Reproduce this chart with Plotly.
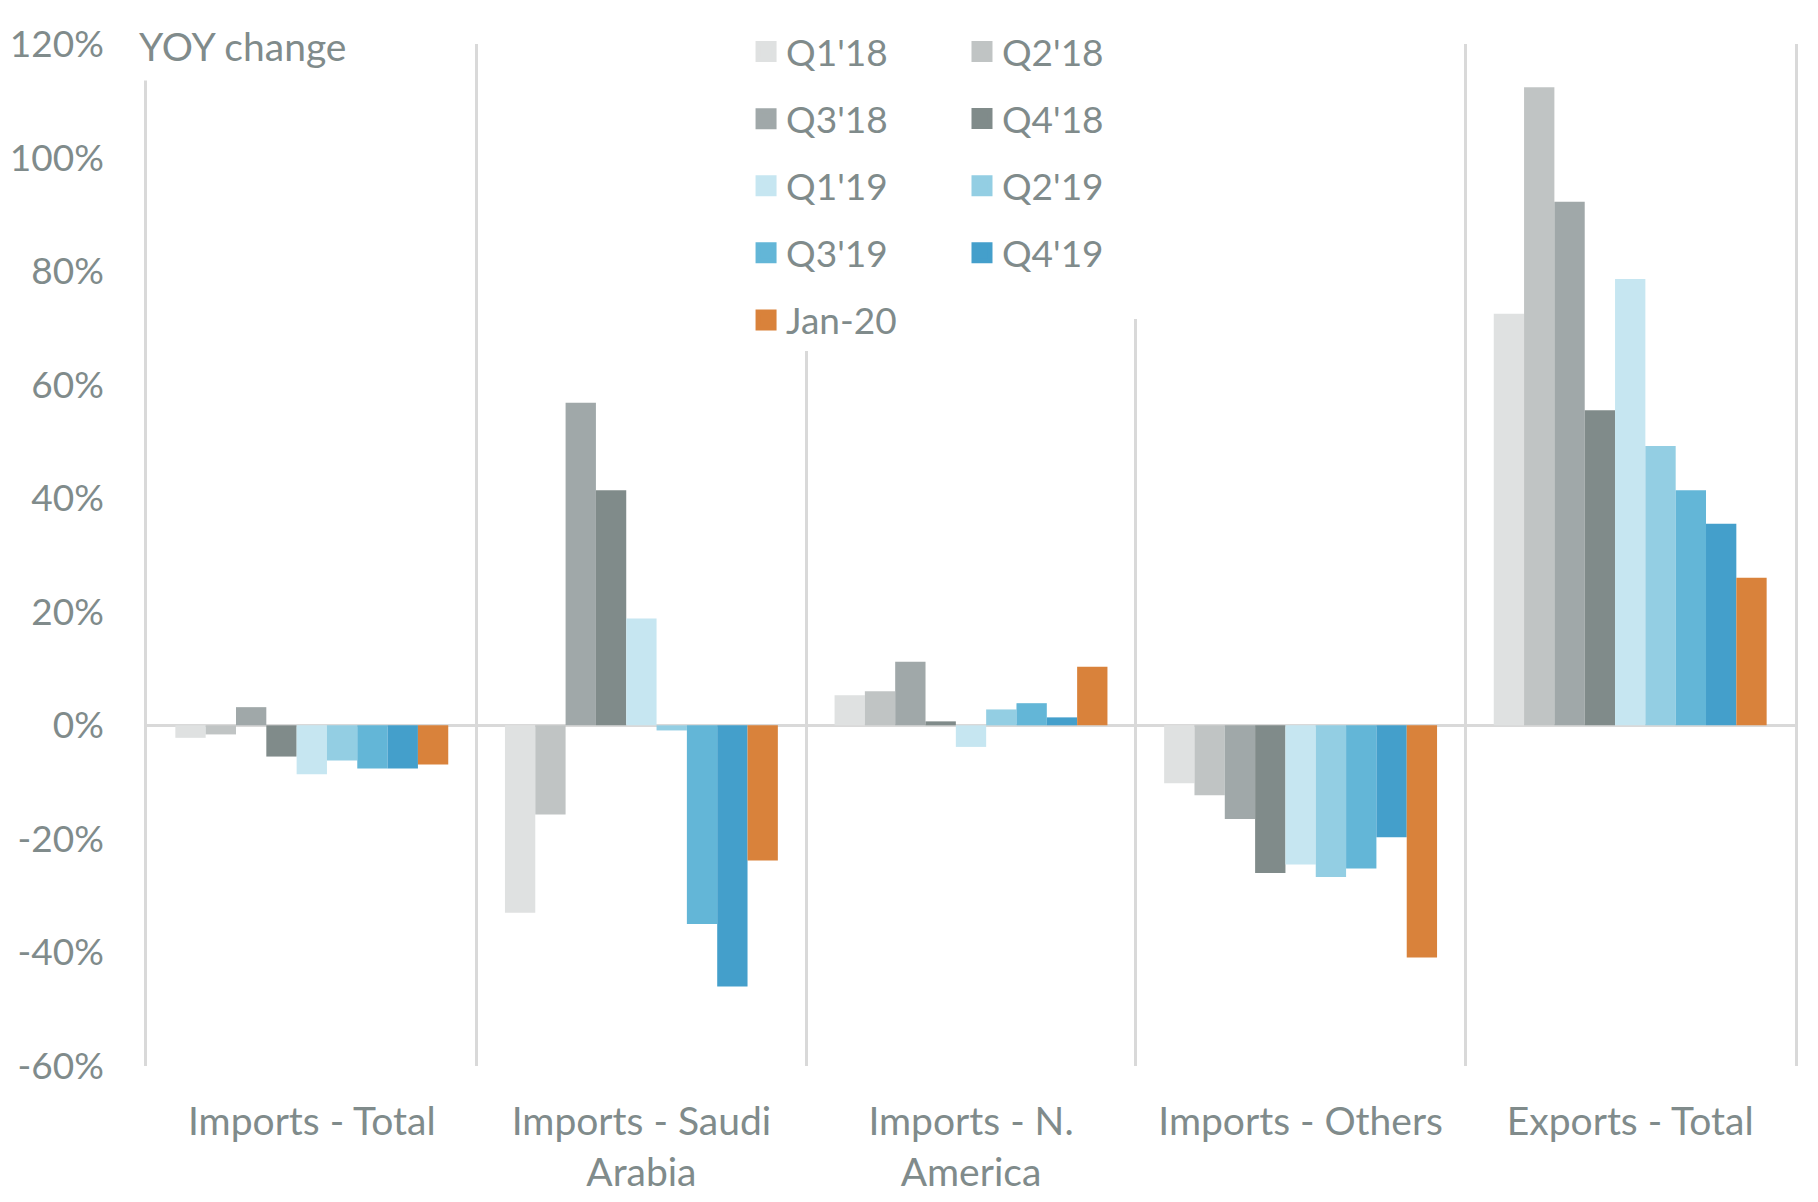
import plotly.graph_objects as go

categories = ["Imports - Total", "Imports - Saudi<br>Arabia", "Imports - N.<br>America",
              "Imports - Others", "Exports - Total"]
series_names = ["Q1'18", "Q2'18", "Q3'18", "Q4'18", "Q1'19", "Q2'19", "Q3'19", "Q4'19", "Jan-20"]
q1_18 = [-2.2, -33.0, 5.3, -10.2, 72.5]
q2_18 = [-1.6, -15.7, 6.0, -12.3, 112.4]
q3_18 = [3.2, 56.8, 11.2, -16.5, 92.2]
q4_18 = [-5.5, 41.4, 0.7, -26.0, 55.5]
q1_19 = [-8.6, 18.8, -3.8, -24.5, 78.6]
q2_19 = [-6.2, -0.9, 2.8, -26.7, 49.2]
q3_19 = [-7.6, -35.0, 3.9, -25.2, 41.4]
q4_19 = [-7.6, -46.0, 1.4, -19.7, 35.5]
jan_20 = [-6.9, -23.8, 10.3, -40.9, 26.0]
series_values = [q1_18, q2_18, q3_18, q4_18, q1_19, q2_19, q3_19, q4_19, jan_20]
colors = ["#dfe1e1", "#c0c4c4", "#a0a8a9", "#808b8a", "#c6e6f1",
          "#93cee3", "#63b6d7", "#449fcb", "#d9823b"]
y_ticks = [-60, -40, -20, 0, 20, 40, 60, 80, 100, 120]
y_ticktext = [f"{v}%" for v in y_ticks]

FONT = "Lato, 'Open Sans', sans-serif"
TXT = "#808b8b"
GRID = "#d9d9d9"

fig = go.Figure()
for name, vals, col in zip(series_names, series_values, colors):
    fig.add_trace(go.Bar(x=categories, y=vals, name=name, marker_color=col,
                         marker_line_width=0, showlegend=False))

# legend entries (two columns)
for i, (name, col) in enumerate(zip(series_names, colors)):
    fig.add_trace(go.Scatter(x=[categories[0]], y=[None], mode="markers", name=name,
                             marker=dict(symbol="square", size=16, color=col,
                                         line=dict(color=col, width=5)),
                             legend="legend" if i % 2 == 0 else "legend2",
                             legendgroup=name, hoverinfo="skip"))

fig.update_layout(
    width=1818, height=1202,
    margin=dict(l=147, r=23, t=44, b=136, autoexpand=False),
    paper_bgcolor="white", plot_bgcolor="white",
    barmode="group", bargap=0.172, bargroupgap=0,
    font=dict(family=FONT, size=37, color=TXT),
    xaxis=dict(type="category", tickson="boundaries", showgrid=True, gridcolor=GRID,
               gridwidth=2.5, ticks="", showline=False, zeroline=False,
               tickfont=dict(size=39, color=TXT), ticklabelstandoff=29),
    yaxis=dict(range=[-60, 120], tickvals=y_ticks, ticktext=y_ticktext, showgrid=False,
               zeroline=True, zerolinecolor=GRID, zerolinewidth=3, ticks="",
               showline=True, linecolor=GRID, linewidth=2.5, mirror=True,
               tickfont=dict(size=37, color=TXT), ticklabelstandoff=33),
    legend=dict(x=0.3635, y=1.0225, xanchor="left", yanchor="top", bgcolor="white",
                font=dict(size=37, color=TXT), tracegroupgap=16, itemwidth=30,
                orientation="v"),
    legend2=dict(x=0.4733, y=1.0568, xanchor="left", yanchor="top", bgcolor="white",
                 bordercolor="white", borderwidth=35,
                 font=dict(size=37, color=TXT), tracegroupgap=16, itemwidth=30,
                 orientation="v"),
    annotations=[dict(text="YOY change", xref="paper", yref="paper", x=-0.0121, y=0.998,
                      xanchor="left", yanchor="middle", showarrow=False,
                      bgcolor="white", borderpad=11, font=dict(size=39, color=TXT))],
)

fig.write_html("out.html")
